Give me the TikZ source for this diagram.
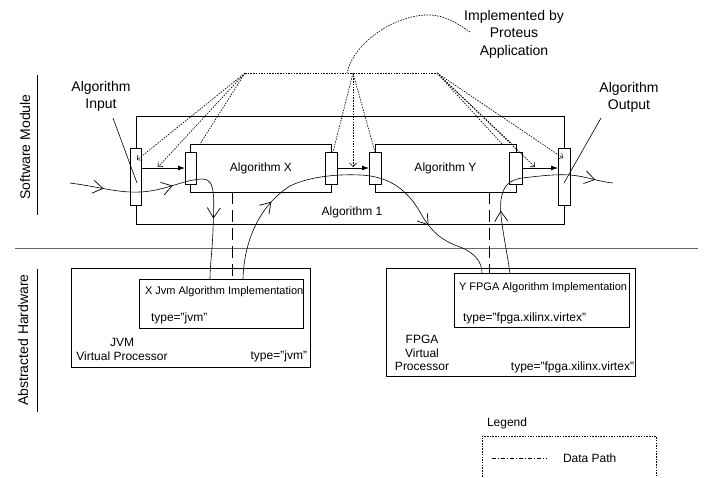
\documentclass[tikz,border=0pt]{standalone}
\usepackage{fontspec}
\setmainfont{Liberation Sans}
\usetikzlibrary{arrows.meta,decorations.markings,calc}
\begin{document}
\begin{tikzpicture}[x=1pt,y=-1pt,
  every node/.style={inner sep=0pt, outer sep=0pt},
  box/.style={draw, line width=0.7pt, fill=white},
  txt/.style={font=\fontsize{12}{14}\selectfont},
  bigtxt/.style={font=\fontsize{14}{17}\selectfont, align=center},
  smalltxt/.style={font=\fontsize{11}{13}\selectfont},
  dotline/.style={line width=0.65pt, dash pattern=on 1.5pt off 1.2pt},
  dotarrow/.style={dotline, -{Straight Barb[length=3.5pt,width=7pt,line width=0.6pt]}},
  solidarr/.style={line width=0.8pt, -{Latex[length=7pt,width=5pt]}},
  flowline/.style={line width=0.6pt},
  datapath/.style={line width=0.7pt, dash pattern=on 12pt off 6pt},
  sepline/.style={line width=1pt, draw=black!60}
]
\useasboundingbox (0,0) rectangle (708,477);

% side labels
\node[bigtxt, rotate=90] (swlbl) at (25,147) {Software Module};
\node[bigtxt, rotate=90] (hwlbl) at (23,340) {Abstracted Hardware};
\coordinate (sw1) at (37,75); \coordinate (sw2) at (37,215);
\coordinate (hw1) at (37,269); \coordinate (hw2) at (37,412);
\draw[line width=0.7pt] (sw1) -- (sw2);
\draw[line width=0.7pt] (hw1) -- (hw2);

% separator
\coordinate (sepL) at (15,248); \coordinate (sepR) at (698,248);
\draw[sepline] (sepL) -- (sepR);

% software module
\node[box, minimum width=428pt, minimum height=108pt] (algone) at (350,170.5) {};
\node[txt] (algonelbl) at (352,212) {Algorithm 1};
\node[box, minimum width=141pt, minimum height=48pt] (algx) at (260.5,168) {};
\node[txt] (algxlbl) at (261,168) {Algorithm X};
\node[box, minimum width=141pt, minimum height=48pt] (algy) at (445.5,168) {};
\node[txt] (algylbl) at (445.5,168) {Algorithm Y};

\node[box, minimum width=11pt, minimum height=57pt] (pin) at (135.5,176.5) {};
\node[box, minimum width=11pt, minimum height=32pt] (xin) at (190.5,168) {};
\node[box, minimum width=12pt, minimum height=32pt] (xout) at (331,168) {};
\node[box, minimum width=12pt, minimum height=32pt] (yin) at (375,168) {};
\node[box, minimum width=13pt, minimum height=32pt] (yout) at (515.5,168) {};
\node[box, minimum width=12pt, minimum height=57pt] (pout) at (564,176.5) {};

% solid arrows between ports
\draw[solidarr] (pin.east |- xin.west) -- (xin.west);
\draw[solidarr] (xout.east) -- (yin.west);
\draw[solidarr] (yout.east) -- (pout.west |- yout.east);

% labels input/output
\node[bigtxt] (inlbl) at (101,96) {Algorithm\\Input};
\node[bigtxt] (outlbl) at (629,97) {Algorithm\\Output};
\coordinate (inl1) at (113,118); \coordinate (inl2) at (137,183);
\coordinate (outl1) at (601,118); \coordinate (outl2) at (564,183);
\draw[line width=0.6pt] (inl1) -- (inl2);
\draw[line width=0.6pt] (outl1) -- (outl2);

% proteus dotted structure
\coordinate (a1) at (245,73);
\coordinate (a2) at (353,73);
\coordinate (a3) at (437,73);
\draw[dotline] (a1) -- (a3);
\coordinate (t11) at (137,160);
\coordinate (t12) at (158,167);
\coordinate (t13) at (200,144);
\draw[dotarrow] (a1) -- (t11);
\draw[dotarrow] (a1) -- (t12);
\draw[dotline] (a1) -- (t13);
\coordinate (t22) at (353,167);
\draw[dotline] (a2) -- ($(xout.north)+(2,0)$);
\draw[dotarrow] (a2) -- (t22);
\draw[dotline] (a2) -- (yin.north);
\coordinate (t31) at (502,144);
\coordinate (t32) at (512,144);
\coordinate (t33) at (535,167);
\coordinate (t34) at (563,158);
\draw[dotline] (a3) -- (t31);
\draw[dotline] (a3) -- (t32);
\draw[dotarrow] (a3) -- (t33);
\draw[dotarrow] (a3) -- (t34);

\node[bigtxt, font=\fontsize{14}{17.5}\selectfont] (impl) at (514,34) {Implemented by\\Proteus\\Application};
\coordinate (implc) at (470,32);
\coordinate (implend) at (347,73);
\draw[dotline] (implc) .. controls (456,22) and (442,14) .. (425,15)
  .. controls (390,17) and (353,45) .. (implend);

% hardware
\node[box, minimum width=239pt, minimum height=99pt] (jvm) at (190.5,317.5) {};
\node[box, minimum width=164pt, minimum height=49pt] (jvmimpl) at (221,303.5) {};
\node[smalltxt, anchor=west] (jvmimpltxt) at (145,292) {X Jvm Algorithm Implementation};
\node[txt, anchor=west] (jvmimpltype) at (151,318) {type="jvm"};
\node[txt, align=center] (jvmlbl) at (122,349) {JVM\\Virtual Processor};
\node[txt, anchor=east] (jvmtype) at (307,356) {type="jvm"};

\node[box, minimum width=249pt, minimum height=108pt] (fpga) at (510.5,322) {};
\node[box, minimum width=175pt, minimum height=54pt] (fpgaimpl) at (541.5,300) {};
\node[smalltxt, anchor=west] (fpgaimpltxt) at (459,288) {Y FPGA Algorithm Implementation};
\node[txt, anchor=west] (fpgaimpltype) at (463,318) {type="fpga.xilinx.virtex"};
\node[txt, align=center, font=\fontsize{12}{13.5}\selectfont] (fpgalbl) at (422,353) {FPGA\\Virtual\\Processor};
\node[txt, anchor=east] (fpgatype) at (634,367) {type="fpga.xilinx.virtex"};

% data paths
\coordinate (dx1) at ($(algx.south west)+(42,0)$);
\draw[datapath] (dx1) -- (dx1 |- jvmimpl.north);
\coordinate (dy1) at ($(algy.south west)+(114,0)$);
\draw[datapath] (dy1) -- (dy1 |- fpgaimpl.north);

% flow curves
\tikzset{chevtip/.tip={Straight Barb[length=10pt,width=13pt,line width=0.7pt]}}
\coordinate (c1s) at (70,183);
\coordinate (c1e) at ($(jvmimpl.north west)+(71,0)$);
\draw[flowline, decoration={markings,
   mark=at position 34pt with {\arrow{chevtip}},
   mark=at position 104pt with {\arrow{chevtip}},
   mark=at position 180pt with {\arrow{chevtip}}},
   postaction=decorate]
  (c1s) .. controls (100,187) and (118,193) .. (140,192)
  .. controls (165,191) and (185,179) .. (203,179)
  .. controls (216,179) and (214,200) .. (213,230)
  .. controls (212,255) and (210,265) .. (c1e);

\coordinate (c2s) at ($(jvmimpl.north west)+(104,0)$);
\coordinate (c2e) at ($(fpgaimpl.north west)+(28,0)$);
\draw[flowline, decoration={markings,
   mark=at position 84pt with {\arrow{chevtip}},
   mark=at position 270pt with {\arrow{chevtip}}},
   postaction=decorate]
  (c2s) .. controls (244,240) and (260,205) .. (290,186)
  .. controls (310,176) and (340,174) .. (360,175)
  .. controls (385,176) and (405,186) .. (420,212)
  .. controls (430,230) and (440,240) .. (460,247)
  .. controls (475,253) and (482,262) .. (c2e);

\coordinate (c3s) at ($(fpgaimpl.north west)+(56,0)$);
\coordinate (c3e) at (613,183);
\draw[flowline, decoration={markings,
   mark=at position 63pt with {\arrow{chevtip}},
   mark=at position 181pt with {\arrow{chevtip}}},
   postaction=decorate]
  (c3s) .. controls (505,240) and (499,215) .. (501,200)
  .. controls (503,185) and (510,180) .. (522,178)
  .. controls (540,176) and (555,174) .. (570,175)
  .. controls (585,176) and (600,182) .. (c3e);

% legend
\node[txt, anchor=west] (legendlbl) at (487,423) {Legend};
\node[draw, dotline, minimum width=174pt, minimum height=50pt] (legendbox) at (569,461) {};
\coordinate (lg1) at (492,458); \coordinate (lg2) at (547,458);
\draw[line width=0.6pt, dash pattern=on 4pt off 2pt on 1pt off 2pt] (lg1) -- (lg2);
\node[txt, anchor=west] (legendtxt) at (563,458) {Data Path};
\end{tikzpicture}
\end{document}
